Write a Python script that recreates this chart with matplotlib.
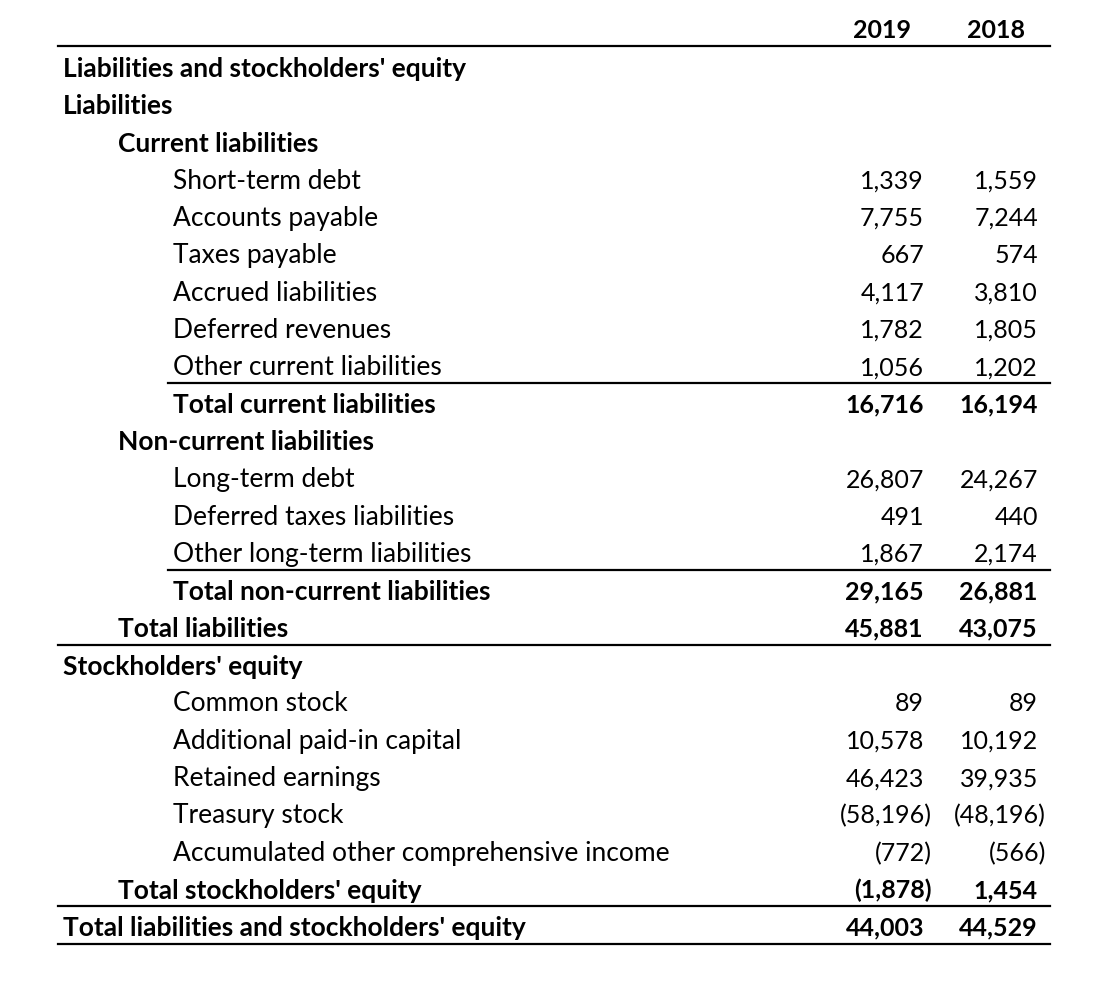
import matplotlib
matplotlib.use("Agg")
import matplotlib.pyplot as plt

#############################
# DATA
#############################

years = ["2019", "2018"]

labels = [
    "Liabilities and stockholders' equity",
    "Liabilities",
    "Current liabilities",
    "Short-term debt",
    "Accounts payable",
    "Taxes payable",
    "Accrued liabilities",
    "Deferred revenues",
    "Other current liabilities",
    "Total current liabilities",
    "Non-current liabilities",
    "Long-term debt",
    "Deferred taxes liabilities",
    "Other long-term liabilities",
    "Total non-current liabilities",
    "Total liabilities",
    "Stockholders' equity",
    "Common stock",
    "Additional paid-in capital",
    "Retained earnings",
    "Treasury stock",
    "Accumulated other comprehensive income",
    "Total stockholders' equity",
    "Total liabilities and stockholders' equity",
]
levels = [0, 0, 1, 2, 2, 2, 2, 2, 2, 2, 1, 2, 2, 2, 2, 1, 0, 2, 2, 2, 2, 2, 1, 0]
bold = [1, 1, 1, 0, 0, 0, 0, 0, 0, 1, 1, 0, 0, 0, 1, 1, 1, 0, 0, 0, 0, 0, 1, 1]
values_2019 = [None, None, None, 1339, 7755, 667, 4117, 1782, 1056, 16716, None,
               26807, 491, 1867, 29165, 45881, None, 89, 10578, 46423, -58196,
               -772, -1878, 44003]
values_2018 = [None, None, None, 1559, 7244, 574, 3810, 1805, 1202, 16194, None,
               24267, 440, 2174, 26881, 43075, None, 89, 10192, 39935, -48196,
               -566, 1454, 44529]

# rules drawn under these rows: (row index, starts at indent level)
rules = [(8, 2), (13, 2), (15, 0), (22, 0), (23, 0)]

#############################
# PLOT
#############################

plt.rcParams['font.family'] = ['Lato', 'DejaVu Sans']

W, H = 1100, 986
fig = plt.figure(figsize=(W / 100, H / 100), dpi=100)
ax = fig.add_axes([0, 0, 1, 1])
ax.set_xlim(0, W)
ax.set_ylim(H, 0)
ax.axis("off")

indent = {0: 63, 1: 118, 2: 173}
line_x = {0: 58, 1: 113, 2: 168}
col_right = [924, 1038]
y0, dy = 69, 37.35
fs_lab = 19
fs_num = 18


def fmt(v):
    if v < 0:
        return "({:,})".format(-v)
    return "{:,}".format(v)


# header
for i, yr in enumerate(years):
    ax.text(col_right[i] - 42, 30, yr, ha="center", va="center",
            fontsize=fs_num, fontweight="bold")
ax.plot([58, 1050], [46, 46], color="black", lw=1.6)

for k, lab in enumerate(labels):
    y = y0 + k * dy
    w = "bold" if bold[k] else "normal"
    ax.text(indent[levels[k]], y, lab, ha="left", va="center",
            fontsize=fs_lab, fontweight=w)
    for i, vals in enumerate([values_2019, values_2018]):
        v = vals[k]
        if v is None:
            continue
        xr = col_right[i] + (8 if v < 0 else 0)
        ax.text(xr, y, fmt(v), ha="right", va="center", fontsize=fs_num, fontweight=w)

for row, lvl in rules:
    y = y0 + row * dy + 15.5
    ax.plot([line_x[lvl], 1050], [y, y], color="black", lw=1.6)

plt.savefig("out.png", dpi=100)
plt.close(fig)
